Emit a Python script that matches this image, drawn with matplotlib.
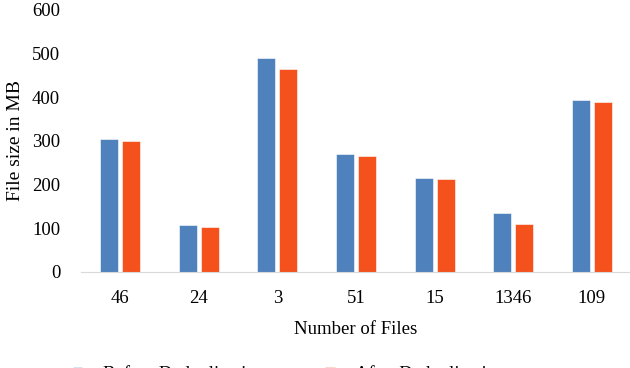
import numpy as np
import matplotlib
matplotlib.use("Agg")
import matplotlib.pyplot as plt

plt.rcParams['font.family'] = ['Liberation Serif', 'DejaVu Serif']

# number of files in each test set
categories = ["46", "24", "3", "51", "15", "1346", "109"]
# file size in MB
before = [304, 107, 489, 270, 215, 135, 395]
after = [299, 103, 464, 265, 212, 110, 389]

fig = plt.figure(figsize=(6.3, 3.68), dpi=100)
ax = fig.add_axes([81/630, 1 - 272/368, 550/630, 262/368])

x = np.arange(len(categories))
w = 0.229
off = 0.14
ax.bar(x - off, before, w, color="#4F81BD", edgecolor="white", linewidth=0.4, label="Before Deduplication")
ax.bar(x + off, after, w, color="#F4511D", edgecolor="white", linewidth=0.4, label="After Deduplication")

ax.set_xlim(-0.5, len(categories) - 0.5)
ax.set_ylim(0, 600)
ax.set_yticks(np.arange(0, 601, 100))
ax.set_xticks(x)
ax.set_xticklabels(categories)

for s in ["top", "right", "left"]:
    ax.spines[s].set_visible(False)
ax.spines["bottom"].set_color("#D9D9D9")
ax.tick_params(axis="both", length=0, labelsize=13.5)
ax.tick_params(axis="x", pad=13)
ax.tick_params(axis="y", pad=15)

ax.set_xlabel("Number of Files", fontsize=13.5, labelpad=10)
ax.set_ylabel("File size in MB", fontsize=14, labelpad=6)

fig.legend(loc="center left", bbox_to_anchor=(0.116, -0.016), ncol=2, frameon=False,
           fontsize=13.5, columnspacing=3.2, handlelength=0.5, handleheight=0.4,
           handletextpad=1.1, borderpad=0, borderaxespad=0)

fig.savefig("out.png", dpi=100)
